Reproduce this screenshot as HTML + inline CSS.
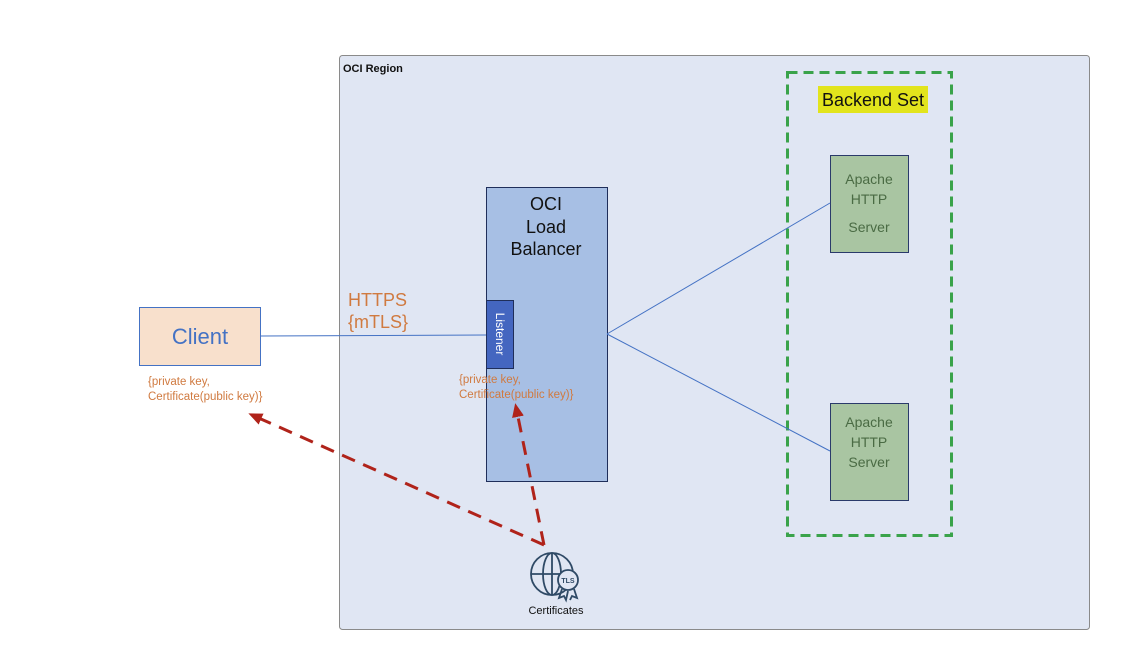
<!DOCTYPE html>
<html><head><style>body{margin:0;background:#fff}svg{display:block}text{font-family:"Liberation Sans",sans-serif}</style></head>
<body>
<svg width="1144" height="658" viewBox="0 0 1144 658" xmlns="http://www.w3.org/2000/svg">
<defs>
<marker id="ar2" markerWidth="14" markerHeight="12" refX="10" refY="6" orient="auto" markerUnits="userSpaceOnUse"><path d="M0,0 L14,6 L0,12 z" fill="#b0231a"/></marker></defs>
<rect x="339.5" y="55.5" width="750" height="574" rx="3" fill="#e0e6f3" stroke="#8a8a8a"/>
<text x="343" y="72" font-size="11" font-weight="bold" fill="#111">OCI Region</text>
<rect x="787.5" y="72.5" width="164" height="463" fill="none" stroke="#3aa34a" stroke-width="3" stroke-dasharray="10,6"/>
<rect x="818" y="86" width="110" height="27" fill="#e2e41c"/>
<text x="873" y="106" font-size="18" text-anchor="middle" fill="#111">Backend Set</text>
<rect x="830.5" y="155.5" width="78" height="97" fill="#a9c5a2" stroke="#2a3a6a"/>
<text x="869" y="184" font-size="14" text-anchor="middle" fill="#4a6b44">Apache</text>
<text x="869" y="204" font-size="14" text-anchor="middle" fill="#4a6b44">HTTP</text>
<text x="869" y="232" font-size="14" text-anchor="middle" fill="#4a6b44">Server</text>
<rect x="830.5" y="403.5" width="78" height="97" fill="#a9c5a2" stroke="#2a3a6a"/>
<text x="869" y="427" font-size="14" text-anchor="middle" fill="#4a6b44">Apache</text>
<text x="869" y="447" font-size="14" text-anchor="middle" fill="#4a6b44">HTTP</text>
<text x="869" y="467" font-size="14" text-anchor="middle" fill="#4a6b44">Server</text>
<rect x="486.5" y="187.5" width="121" height="294" fill="#a7bfe4" stroke="#1f2e5a"/>
<text x="546" y="210" font-size="18" text-anchor="middle" fill="#111">OCI</text>
<text x="546" y="233" font-size="18" text-anchor="middle" fill="#111">Load</text>
<text x="546" y="255" font-size="18" text-anchor="middle" fill="#111">Balancer</text>
<rect x="486.5" y="300.5" width="27" height="68" fill="#4466c0" stroke="#1f2e5a"/>
<text x="0" y="0" font-size="12" fill="#fff" text-anchor="middle" transform="translate(496,334) rotate(90)">Listener</text>
<rect x="139.5" y="307.5" width="121" height="58" fill="#f8e0cc" stroke="#4472c4"/>
<text x="200" y="344" font-size="22" text-anchor="middle" fill="#4472c4">Client</text>
<line x1="261" y1="336" x2="486" y2="335" stroke="#4472c4" stroke-width="1"/>
<text x="348" y="306" font-size="18" fill="#d07a40">HTTPS</text>
<text x="348" y="328" font-size="18" fill="#d07a40">{mTLS}</text>
<line x1="607" y1="334" x2="830" y2="203" stroke="#4472c4"/>
<line x1="607" y1="334" x2="830" y2="451" stroke="#4472c4"/>
<text x="148" y="385" font-size="11.5" fill="#d07a40">{private key,</text>
<text x="148" y="400" font-size="11.5" fill="#d07a40">Certificate(public key)}</text>
<text x="459" y="383" font-size="11.5" fill="#d07a40">{private key,</text>
<text x="459" y="398" font-size="11.5" fill="#d07a40">Certificate(public key)}</text>
<line x1="544" y1="545" x2="252" y2="415" stroke="#b0231a" stroke-width="3" stroke-dasharray="14,9" marker-end="url(#ar2)"/>
<line x1="544" y1="545" x2="516" y2="407" stroke="#b0231a" stroke-width="3" stroke-dasharray="14,9" marker-end="url(#ar2)"/>
<g fill="none" stroke="#2f4a66" stroke-width="1.8">
<circle cx="552" cy="574" r="21"/>
<ellipse cx="552" cy="574" rx="9" ry="21"/>
<line x1="552" y1="553" x2="552" y2="595"/>
<line x1="531" y1="574" x2="573" y2="574"/>
<circle cx="568" cy="580" r="10" fill="#e0e6f3"/>
<path d="M562,589 L559,598 L564,596 L566,600 L568,591 M574,589 L577,598 L572,596 L570,600"/>
</g>
<text x="568" y="583" font-size="7" text-anchor="middle" fill="#2f4a66" font-weight="bold">TLS</text>
<text x="556" y="614" font-size="11" text-anchor="middle" fill="#111">Certificates</text>
</svg>
</body></html>
